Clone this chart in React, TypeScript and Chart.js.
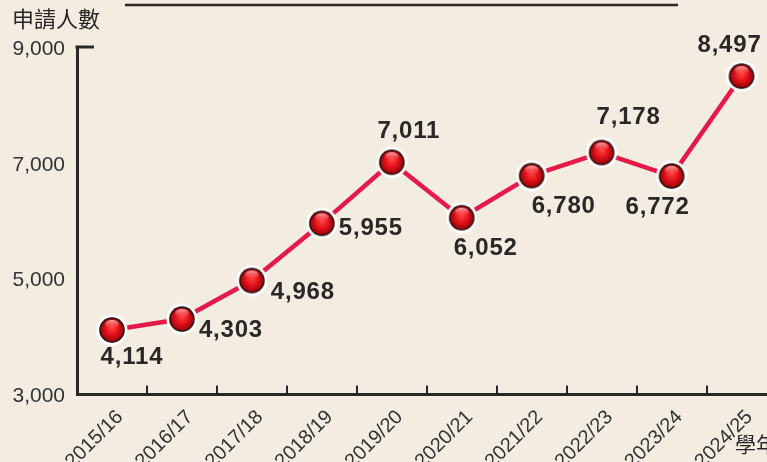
import React, { useEffect, useRef } from "react";
import { Chart, registerables } from "chart.js";

Chart.register(...registerables);

const categories = [
  "2015/16", "2016/17", "2017/18", "2018/19", "2019/20",
  "2020/21", "2021/22", "2022/23", "2023/24", "2024/25",
];
const applicants = [4114, 4303, 4968, 5955, 7011, 6052, 6780, 7178, 6772, 8497];
const yTicks = [3000, 5000, 7000, 9000];
const yTitle = "申請人數";
const xTitle = "學年";
// label placement relative to each point (annotation style)
const labelDx = [20, 49, 51, 49, 17, 24, 32, 27, -14, -12];
const labelDy = [27, 11, 12, 5, -31, 31, 31, -35, 31, -31];

const INK = "#2b2727";
const LINE = "#e6194b";
const BG = "#f3ede1";

function makeSphere(): HTMLCanvasElement {
  const c = document.createElement("canvas");
  c.width = 32;
  c.height = 32;
  const g = c.getContext("2d")!;
  g.beginPath();
  g.arc(16, 16, 15.5, 0, Math.PI * 2);
  g.fillStyle = "#ffffff";
  g.fill();
  g.beginPath();
  g.arc(16, 16, 12.8, 0, Math.PI * 2);
  g.fillStyle = "#241010";
  g.fill();
  const rg = g.createRadialGradient(16, 13, 1, 16, 16, 11.5);
  rg.addColorStop(0, "#ff4040");
  rg.addColorStop(0.55, "#e0101a");
  rg.addColorStop(1, "#9a0509");
  g.beginPath();
  g.arc(16, 16, 11.3, 0, Math.PI * 2);
  g.fillStyle = rg;
  g.fill();
  const hg = g.createLinearGradient(0, 6, 0, 14);
  hg.addColorStop(0, "rgba(255,200,200,0.85)");
  hg.addColorStop(1, "rgba(255,120,120,0)");
  g.beginPath();
  g.ellipse(16, 10.5, 7, 4.5, 0, 0, Math.PI * 2);
  g.fillStyle = hg;
  g.fill();
  return c;
}

const decorPlugin = {
  id: "decor",
  beforeDraw(chart: any) {
    const { ctx, width, height } = chart;
    ctx.save();
    ctx.fillStyle = BG;
    ctx.fillRect(0, 0, width, height);
    ctx.restore();
  },
  afterDraw(chart: any) {
    const { ctx, chartArea, scales } = chart;
    const x = scales.x;
    const y = scales.y;
    ctx.save();
    ctx.strokeStyle = INK;
    ctx.lineWidth = 2.5;
    ctx.beginPath();
    ctx.moveTo(125, 5);
    ctx.lineTo(678, 5);
    ctx.stroke();
    const yTop = y.getPixelForValue(9000);
    ctx.lineWidth = 3;
    ctx.beginPath();
    ctx.moveTo(chartArea.left - 1.5, yTop);
    ctx.lineTo(chartArea.left + 17, yTop);
    ctx.stroke();
    ctx.lineWidth = 2;
    for (let i = 0; i < categories.length - 1; i++) {
      const px = Math.round(x.getPixelForValue(i + 0.5));
      ctx.beginPath();
      ctx.moveTo(px, chartArea.bottom);
      ctx.lineTo(px, chartArea.bottom - 9);
      ctx.stroke();
    }
    ctx.fillStyle = INK;
    ctx.textBaseline = "middle";
    ctx.textAlign = "left";
    ctx.font = "22px 'Noto Sans CJK TC', 'Noto Sans CJK SC', sans-serif";
    ctx.fillText(yTitle, 12, 18.5);
    ctx.font = "21px 'Noto Sans CJK TC', 'Noto Sans CJK SC', sans-serif";
    ctx.fillText(xTitle, 735, 444);
    ctx.restore();
  },
  afterDatasetsDraw(chart: any) {
    const { ctx } = chart;
    const meta = chart.getDatasetMeta(0);
    ctx.save();
    ctx.fillStyle = INK;
    ctx.font = "bold 24px 'Liberation Sans', Arial, sans-serif";
    (ctx as any).letterSpacing = "0.8px";
    ctx.textAlign = "center";
    ctx.textBaseline = "middle";
    meta.data.forEach((pt: any, i: number) => {
      ctx.fillText(applicants[i].toLocaleString("en-US"), pt.x + labelDx[i], pt.y + labelDy[i]);
    });
    ctx.restore();
  },
};

export default function App() {
  const ref = useRef<HTMLCanvasElement | null>(null);
  useEffect(() => {
    if (!ref.current) return;
    const sphere = makeSphere();
    const chart = new Chart(ref.current, {
      type: "line",
      data: {
        labels: categories,
        datasets: [
          {
            data: applicants,
            borderColor: LINE,
            borderWidth: 4.5,
            pointStyle: sphere as any,
            pointRadius: 15,
            tension: 0,
            clip: false as any,
          },
        ],
      },
      options: {
        animation: false,
        responsive: false,
        maintainAspectRatio: false,
        layout: { padding: { top: 47, right: 3, left: 0, bottom: 0 } },
        plugins: { legend: { display: false }, tooltip: { enabled: false } },
        scales: {
          x: {
            type: "category",
            offset: true,
            grid: { display: false, drawTicks: false },
            border: { display: true, color: INK, width: 3 },
            ticks: {
              minRotation: 45,
              maxRotation: 45,
              autoSkip: false,
              padding: 11,
              labelOffset: 8,
              color: "#333",
              font: { family: "'Liberation Sans', Arial, sans-serif", size: 20 },
            },
            afterFit: (s: any) => {
              s.height = 67.5;
            },
          },
          y: {
            type: "linear",
            min: 3000,
            max: 9000,
            afterBuildTicks: (s: any) => {
              s.ticks = yTicks.map((v) => ({ value: v }));
            },
            grid: { display: false, drawTicks: false },
            border: { display: true, color: INK, width: 3 },
            ticks: {
              padding: 12,
              labelOffset: 2,
              color: "#333",
              font: { family: "'Liberation Sans', Arial, sans-serif", size: 21 },
              callback: (v: any) => Number(v).toLocaleString("en-US"),
            },
            afterFit: (s: any) => {
              s.width = 77;
            },
          },
        },
      },
      plugins: [decorPlugin],
    });
    return () => chart.destroy();
  }, []);
  return (
    <div
      style={{
        position: "absolute",
        left: 0,
        top: 0,
        width: 767,
        height: 462,
        overflow: "hidden",
        background: BG,
      }}
    >
      <canvas ref={ref} width={796} height={462} style={{ display: "block" }} />
    </div>
  );
}
